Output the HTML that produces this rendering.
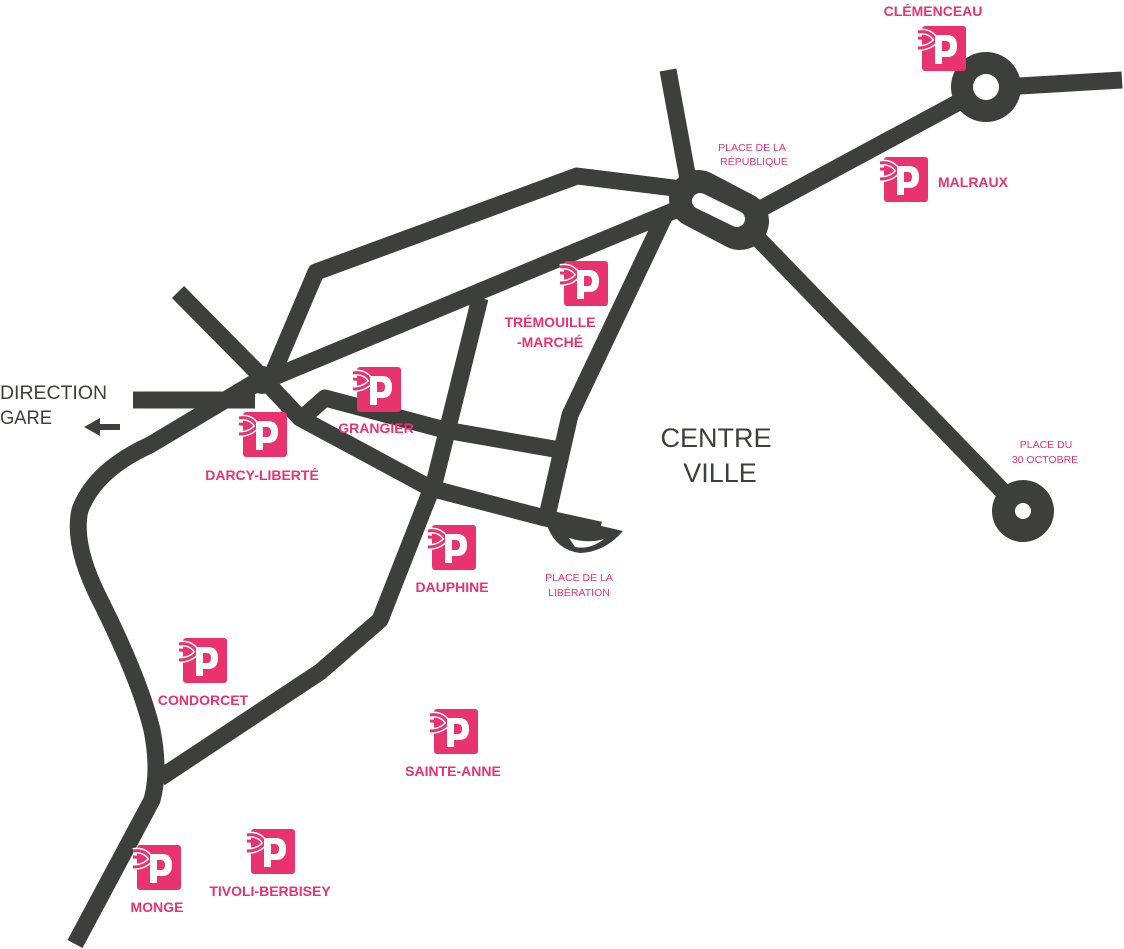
<!DOCTYPE html>
<html><head><meta charset="utf-8"><style>
html,body{margin:0;padding:0;background:#fff;}
svg{display:block}
.l{font-family:"Liberation Sans",sans-serif;font-weight:bold;fill:#e8336f;font-size:14px;text-anchor:middle}
.s{font-family:"Liberation Sans",sans-serif;fill:#e8336f;font-size:10.5px;text-anchor:middle}
.b{font-family:"Liberation Sans",sans-serif;fill:#3d403a;text-anchor:middle}
.st{font-family:"Liberation Sans",sans-serif;fill:#3d403a;text-anchor:start;font-size:19px}
</style></head><body>
<svg width="1124" height="949" viewBox="0 0 1124 949" xmlns="http://www.w3.org/2000/svg">
<defs>
<symbol id="p" viewBox="-4 0 50 46" overflow="visible">
<rect x="2" y="0" width="44" height="45" rx="3" fill="#e8336f"/>
<path d="M-2,6 Q10,4 16,14 Q10,22 -2,22" fill="none" stroke="#fff" stroke-width="6"/>
<path d="M-2,6 Q10,4 16,14 Q10,22 -2,22" fill="none" stroke="#e8336f" stroke-width="3"/>
<path d="M-2,12 Q6,12 8,15" fill="none" stroke="#e8336f" stroke-width="3"/>
<path d="M15,38 L15,9 L27,9 Q37,9 37,20 Q37,31 27,31 L22,31 L22,38 Z M22,15 L22,25 L26,25 Q30,25 30,20 Q30,15 26,15 Z" fill="#fff" fill-rule="evenodd"/>
</symbol>
</defs>
<g fill="none" stroke="#3d403a" stroke-width="17" stroke-linejoin="round" stroke-linecap="butt">
<polyline points="268,385 316,272 577,176 690,190"/>
<line x1="238" y1="392" x2="690" y2="204"/>
<path d="M262,378 L150,445 Q95,470 80,510 Q72,545 100,600 Q140,680 152,730 Q160,770 152,800 L75,944"/>
<line x1="133" y1="400" x2="255" y2="400"/>
<polyline points="178,292 255,370 300,418 430,488 545,518 600,530"/>
<polyline points="300,420 325,398 445,430 560,450"/>
<polyline points="665,215 570,415 545,525"/>
<polyline points="480,298 435,480 380,620 320,672 160,778"/>
<line x1="668" y1="70" x2="690" y2="190"/>
<line x1="740" y1="220" x2="985" y2="88"/>
<line x1="985" y1="88" x2="1122" y2="80"/>
<line x1="745" y1="225" x2="1022" y2="511"/>
</g>
<circle cx="262" cy="380" r="14" fill="#3d403a"/>
<line x1="698" y1="199" x2="740" y2="221" stroke="#3d403a" stroke-width="58" stroke-linecap="round"/>
<line x1="700" y1="201" x2="737" y2="219" stroke="#fff" stroke-width="16" stroke-linecap="round"/>
<circle cx="986" cy="87" r="35" fill="#3d403a"/><circle cx="986" cy="87" r="13" fill="#fff"/>
<circle cx="1023" cy="511" r="31" fill="#3d403a"/><circle cx="1023" cy="511" r="8" fill="#fff"/>
<path d="M545,513 L623,531 Q605,552 580,553 Q557,550 548,528 Z" fill="#3d403a"/>
<path d="M569,538 Q588,544 604,539 Q590,550 575,547 Z" fill="#fff"/>
<path d="M120,424 L100,424 L100,418 L84,427 L100,436 L100,430 L120,430 Z" fill="#3d403a"/>
<text class="st" x="0" y="399" textLength="107" lengthAdjust="spacingAndGlyphs">DIRECTION</text>
<text class="st" x="0" y="424" textLength="52" lengthAdjust="spacingAndGlyphs">GARE</text>
<text class="b" x="716" y="447" font-size="27">CENTRE</text>
<text class="b" x="720" y="482" font-size="27">VILLE</text>
<text class="s" x="752" y="151">PLACE DE LA</text>
<text class="s" x="754" y="165">RÉPUBLIQUE</text>
<text class="s" x="1046" y="448">PLACE DU</text>
<text class="s" x="1045" y="463">30 OCTOBRE</text>
<text class="s" x="579" y="581">PLACE DE LA</text>
<text class="s" x="579" y="596">LIBÉRATION</text>
<use href="#p" x="916" y="26" width="50" height="46"/><text class="l" x="933" y="16">CLÉMENCEAU</text>
<use href="#p" x="878" y="157" width="50" height="46"/><text class="l" x="973" y="187">MALRAUX</text>
<use href="#p" x="558" y="261" width="50" height="46"/><text class="l" x="550" y="327">TRÉMOUILLE</text><text class="l" x="550" y="347">-MARCHÉ</text>
<use href="#p" x="351" y="367" width="50" height="46"/><text class="l" x="376" y="433">GRANGIER</text>
<use href="#p" x="237" y="412" width="50" height="46"/><text class="l" x="262" y="480">DARCY-LIBERTÉ</text>
<use href="#p" x="426" y="525" width="50" height="46"/><text class="l" x="452" y="592">DAUPHINE</text>
<use href="#p" x="177" y="638" width="50" height="46"/><text class="l" x="203" y="705">CONDORCET</text>
<use href="#p" x="428" y="709" width="50" height="46"/><text class="l" x="453" y="776">SAINTE-ANNE</text>
<use href="#p" x="245" y="829" width="50" height="46"/><text class="l" x="270" y="896">TIVOLI-BERBISEY</text>
<use href="#p" x="131" y="845" width="50" height="46"/><text class="l" x="157" y="912">MONGE</text>
</svg>
</body></html>
